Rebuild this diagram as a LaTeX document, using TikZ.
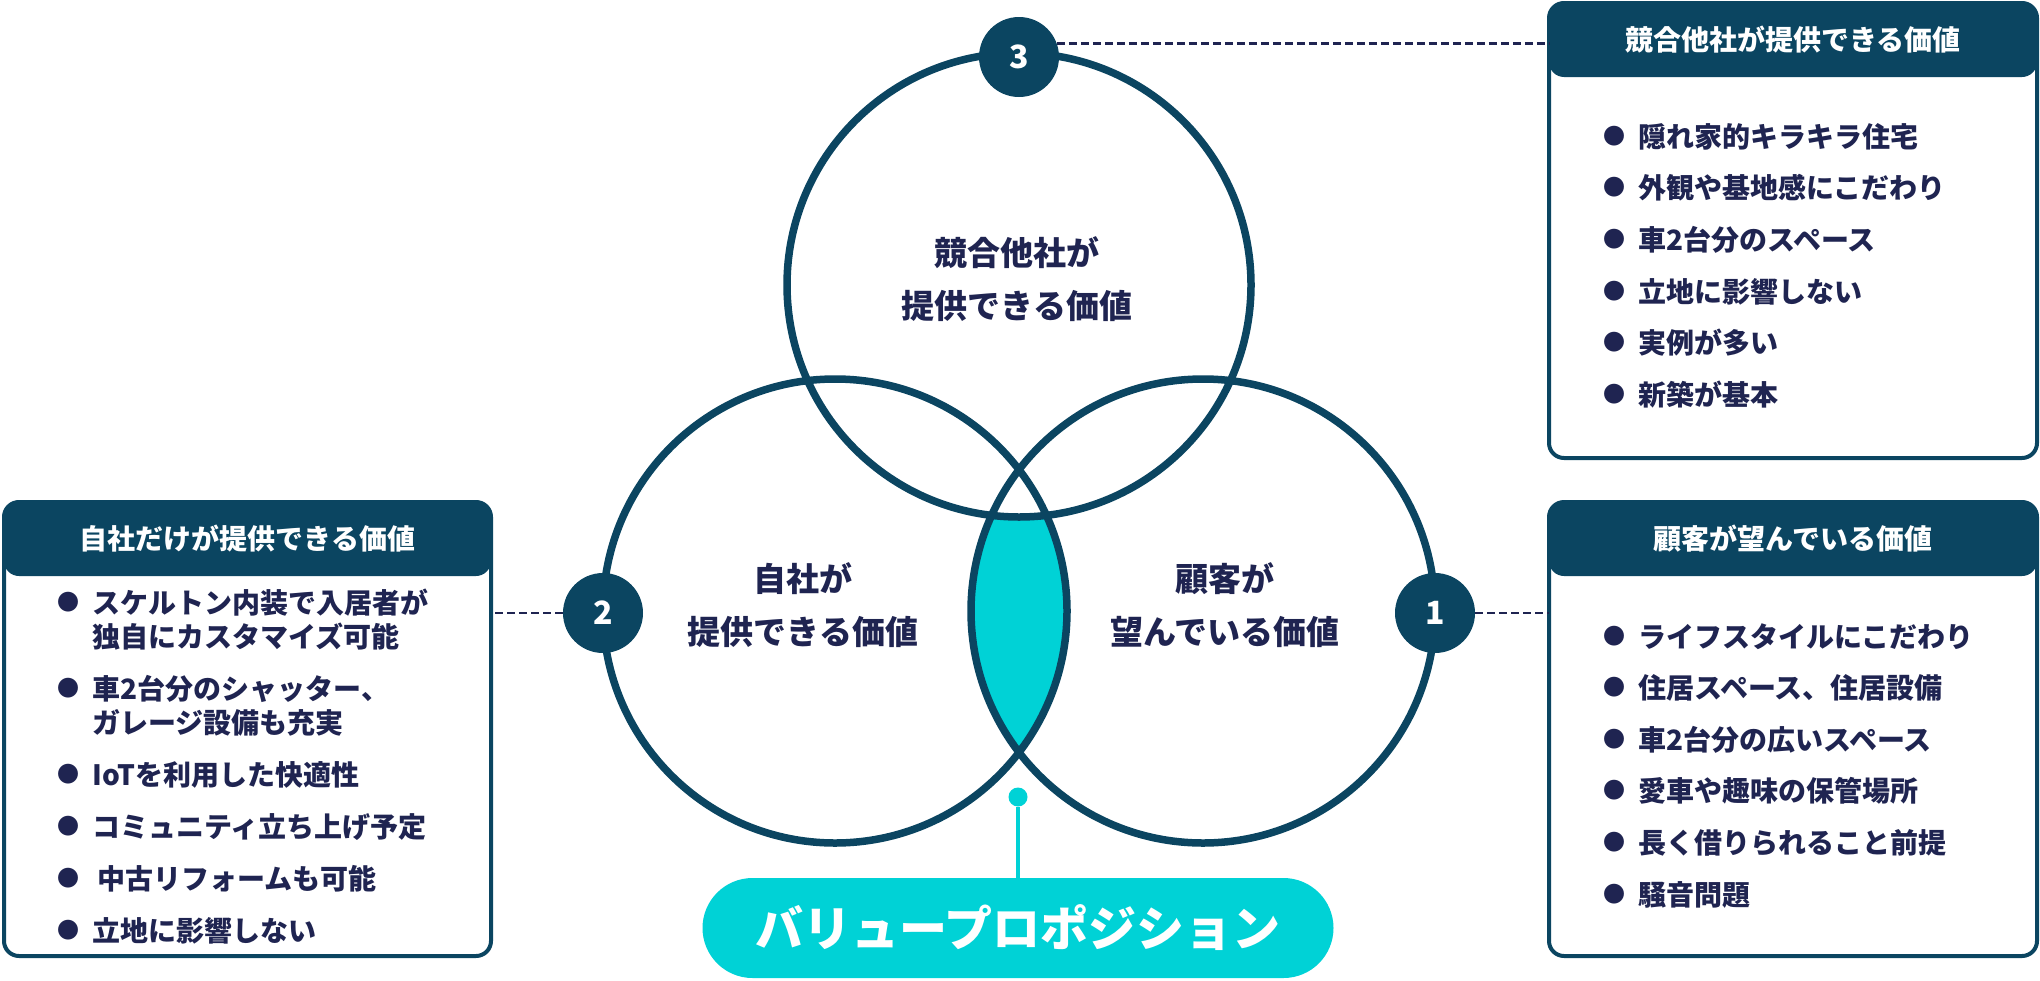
\documentclass[tikz,border=0pt]{standalone}
\usepackage{tikz}
\usetikzlibrary{backgrounds}
\usetikzlibrary{shapes.geometric, arrows}
\usepackage{xcolor}
\usepackage{fontspec}
\setmainfont{Noto Sans CJK JP}
\definecolor{deepsea}{HTML}{0B4561}
\definecolor{inkblue}{HTML}{1F2451}
\definecolor{lagoon}{HTML}{00D2D6}
\newcommand{\blt}{\raisebox{3pt}{\fontsize{22}{22}\selectfont ●}\hspace{13pt}}
\tikzstyle{badge} = [circle, minimum size=80pt, inner sep=0pt, fill=deepsea, text=white, font=\fontsize{32}{32}\selectfont\bfseries]
\tikzstyle{leader} = [inkblue, line width=2.5pt, dash pattern=on 8pt off 4pt]

\begin{document}
\begin{tikzpicture}[x=1pt, y=-1pt,
		ring/.style={
			circle,
			draw=deepsea,
			line width=7.5pt,
			minimum size=464pt,
			inner sep=0pt, outer sep=0pt},
		panel/.style={
			rectangle,
			rounded corners=15pt,
			draw=deepsea,
			line width=4pt,
			fill=white,
			inner sep=0pt, outer sep=0pt,
			path picture={\fill[deepsea] (path picture bounding box.north west) rectangle ([yshift=-74pt]path picture bounding box.north east);}},
		caption/.style={text=white, font=\fontsize{28}{28}\selectfont\bfseries},
		items/.style={text=inkblue, align=left, inner sep=0pt, anchor=north west, font=\fontsize{28}{34}\selectfont\bfseries},
		label/.style={text=inkblue, align=center, inner sep=0pt, font=\fontsize{33}{53}\selectfont\bfseries}]

		\useasboundingbox (0,0) rectangle (2040,980);

		\node (topc) [ring] at (1019,285) {};
		\node (leftc) [ring] at (835,611) {};
		\node (rightc) [ring] at (1203,611) {};

		\begin{scope}[on background layer]
			\clip (leftc.center) circle[radius=232pt];
			\clip (rightc.center) circle[radius=232pt];
			\fill[lagoon] (leftc.center) circle[radius=232pt];
			\fill[white] (topc.center) circle[radius=232pt];
		\end{scope}

		\node (topl) [label] at (1017,279) {競合他社が\\提供できる価値};
		\node (leftl) [label] at (803,605) {自社が\\提供できる価値};
		\node (rightl) [label] at (1225,605) {顧客が\\望んでいる価値};

		\node (b3) [badge, yshift=-4pt] at (topc.north) {3};
		\node (b2) [badge, yshift=-2pt] at (leftc.west) {2};
		\node (b1) [badge, yshift=-2pt] at (rightc.east) {1};

		\node (compbox) [panel, minimum width=488pt, minimum height=455pt, anchor=north west] at (1549,3) {};
		\node (ownbox) [panel, minimum width=487pt, minimum height=454pt, anchor=north west] at (4,502) {};
		\node (custbox) [panel, minimum width=488pt, minimum height=454pt, anchor=north west] at (1549,502) {};

		\node (comptitle) [caption] at ([yshift=-37pt]compbox.north) {競合他社が提供できる価値};
		\node (owntitle) [caption] at ([yshift=-37pt]ownbox.north) {自社だけが提供できる価値};
		\node (custtitle) [caption] at ([yshift=-37pt]custbox.north) {顧客が望んでいる価値};

		\node (complist) [items] at (1603,123) {\blt 隠れ家的キラキラ住宅\\[17.6pt]\blt 外観や基地感にこだわり\\[17.6pt]\blt 車2台分のスペース\\[17.6pt]\blt 立地に影響しない\\[17.6pt]\blt 実例が多い\\[17.6pt]\blt 新築が基本};
		\node (ownlist) [items] at (57,589) {\blt スケルトン内装で入居者が\\\hspace*{35pt}独自にカスタマイズ可能\\[18pt]\blt 車2台分のシャッター、\\\hspace*{35pt}ガレージ設備も充実\\[18pt]\blt IoTを利用した快適性\\[18pt]\blt コミュニティ立ち上げ予定\\[18pt]\blt \hspace{5pt}中古リフォームも可能\\[18pt]\blt 立地に影響しない};
		\node (custlist) [items] at (1603,623) {\blt ライフスタイルにこだわり\\[17.6pt]\blt 住居スペース、住居設備\\[17.6pt]\blt 車2台分の広いスペース\\[17.6pt]\blt 愛車や趣味の保管場所\\[17.6pt]\blt 長く借りられること前提\\[17.6pt]\blt 騒音問題};

		\draw[leader] (b3.20) -- (b3.20 -| compbox.west);
		\draw[leader] (b2.west) -- (b2.west -| ownbox.east);
		\draw[leader] (b1.east) -- (b1.east -| custbox.west);

		\node (vp) [rectangle, rounded corners=50pt, fill=lagoon, minimum width=631pt, minimum height=100pt, text=white, font=\fontsize{48}{48}\selectfont\bfseries] at (1018,928) {バリュープロポジション};
		\node (vpdot) [circle, fill=lagoon, minimum size=19pt, inner sep=0pt] at (1018,797) {};
		\draw[lagoon, line width=4.5pt] (vpdot) -- (vp.north);
	\end{tikzpicture}
\end{document}
